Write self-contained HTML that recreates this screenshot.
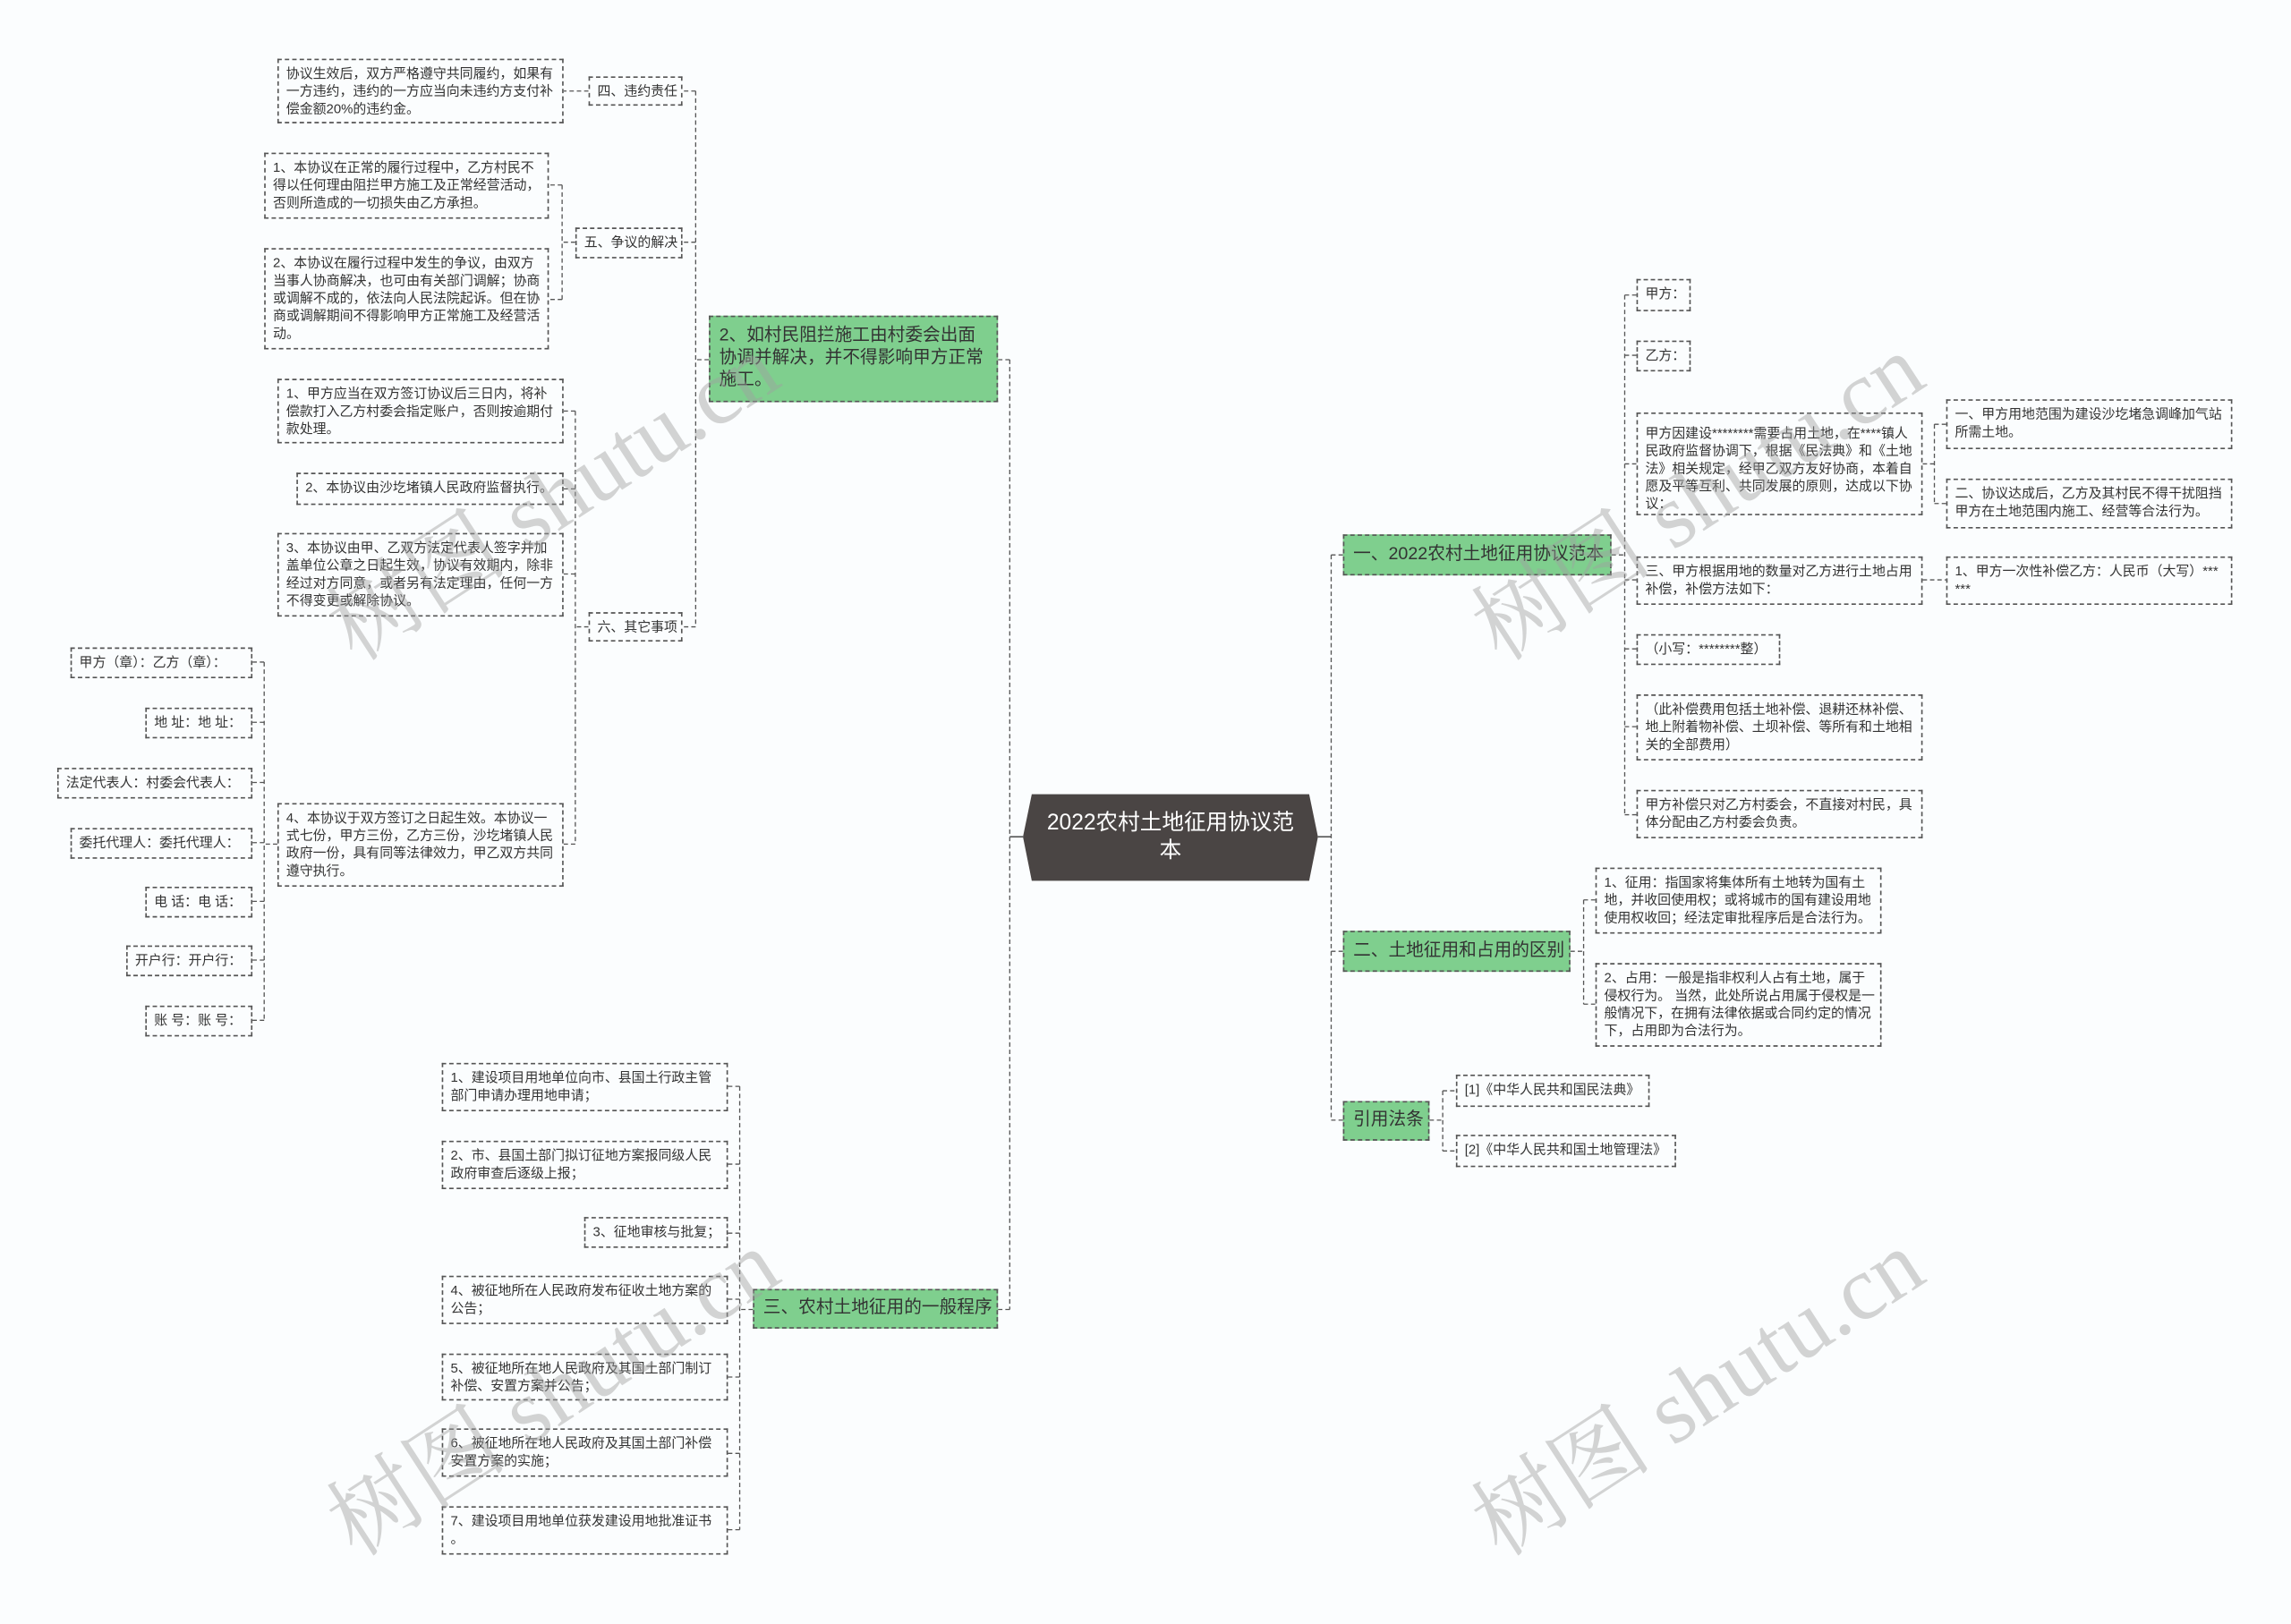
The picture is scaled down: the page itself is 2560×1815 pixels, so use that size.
<!DOCTYPE html>
<html><head><meta charset="utf-8"><style>
html,body{margin:0;padding:0;background:#fbfdfe;}
#wrap{position:relative;width:1561px;height:1106px;transform:scale(1.64,1.6407);transform-origin:0 0;overflow:hidden;font-family:"Liberation Sans","Noto Sans CJK SC",sans-serif;}
.b{position:absolute;box-sizing:border-box;border:1px dashed #555;background:#fbfdfe;color:#333;font-size:9.1px;line-height:12px;padding:3px 3px 3px 5px;}
.n{white-space:nowrap;}
.g{position:absolute;box-sizing:border-box;border:1px dashed #555;background:#7fcf8e;color:#333;font-size:12px;line-height:15px;padding:5px 6px;}
.wm{position:absolute;font-family:"Liberation Serif","Noto Serif CJK SC",serif;font-size:62px;color:rgba(160,160,160,0.45);transform:rotate(-33deg);white-space:nowrap;}
svg{position:absolute;left:0;top:0;}
</style></head><body><div id="wrap">
<svg width="1561" height="1106" viewBox="0 0 1561 1106">
<g fill="none" stroke="#555" stroke-width="0.8" stroke-dasharray="3 2">
<path d="M688 245V892M688 245H680M688 892H680"/>
<path d="M483 245H474M474 62V427M474 62H465M474 165H465M474 427H465"/>
<path d="M401 62H384"/>
<path d="M392 165H383M383 126V204M383 126H374M383 204H374"/>
<path d="M401 427H392M392 280V575M392 280H384M392 333H384M392 391H384M392 575H384"/>
<path d="M189 575H180M180 451V695M180 451H172M180 492H172M180 533H172M180 574H172M180 614H172M180 654H172M180 695H172"/>
<path d="M513 892H504M504 740V1042M504 740H496M504 793H496M504 840H496M504 885H496M504 938H496M504 990H496M504 1042H496"/>
<path d="M907 378V763M907 378H915M907 648H915M907 763H915"/>
<path d="M1098 378H1107M1107 201V555M1107 201H1115M1107 242H1115M1107 316H1115M1107 395H1115M1107 442H1115M1107 495H1115M1107 555H1115"/>
<path d="M1310 316H1318M1318 289V343M1318 289H1326M1318 343H1326"/>
<path d="M1310 395H1326"/>
<path d="M1070 648H1079M1079 613V684M1079 613H1087M1079 684H1087"/>
<path d="M974 763H983M983 743V784M983 743H992M983 784H992"/>
</g>
<g stroke="#555" stroke-width="1"><path d="M697 570H688M898 570H907"/></g>
<polygon points="703,541 892,541 898,570 892,600 703,600 697,570" fill="#4a4544"/>
</svg>
<div style="position:absolute;left:703px;top:541px;width:189px;height:59px;color:#fff;font-size:15px;line-height:19px;text-align:center;padding-top:10px;box-sizing:border-box;">2022农村土地征用协议范<br>本</div>

<div class="b" style="left:189px;top:40px;width:195px;height:44px;">协议生效后，双方严格遵守共同履约，如果有一方违约，违约的一方应当向未违约方支付补偿金额20%的违约金。</div>
<div class="b n" style="left:401px;top:52px;width:64px;height:20px;">四、违约责任</div>
<div class="b" style="left:180px;top:104px;width:194px;height:45px;">1、本协议在正常的履行过程中，乙方村民不得以任何理由阻拦甲方施工及正常经营活动，否则所造成的一切损失由乙方承担。</div>
<div class="b n" style="left:392px;top:155px;width:73px;height:21px;">五、争议的解决</div>
<div class="b" style="left:180px;top:169px;width:194px;height:69px;">2、本协议在履行过程中发生的争议，由双方当事人协商解决，也可由有关部门调解；协商或调解不成的，依法向人民法院起诉。但在协商或调解期间不得影响甲方正常施工及经营活动。</div>
<div class="g" style="left:483px;top:215px;width:197px;height:59px;">2、如村民阻拦施工由村委会出面协调并解决，并不得影响甲方正常施工。</div>
<div class="b" style="left:189px;top:258px;width:195px;height:44px;">1、甲方应当在双方签订协议后三日内，将补偿款打入乙方村委会指定账户，否则按逾期付款处理。</div>
<div class="b n" style="left:202px;top:322px;width:182px;height:22px;">2、本协议由沙圪堵镇人民政府监督执行。</div>
<div class="b" style="left:189px;top:363px;width:195px;height:57px;">3、本协议由甲、乙双方法定代表人签字并加盖单位公章之日起生效，协议有效期内，除非经过对方同意，或者另有法定理由，任何一方不得变更或解除协议。</div>
<div class="b n" style="left:401px;top:417px;width:64px;height:20px;">六、其它事项</div>
<div class="b" style="left:189px;top:547px;width:195px;height:57px;">4、本协议于双方签订之日起生效。本协议一式七份，甲方三份，乙方三份，沙圪堵镇人民政府一份，具有同等法律效力，甲乙双方共同遵守执行。</div>
<div class="b n" style="left:48px;top:441px;width:124px;height:21px;">甲方（章）：乙方（章）：</div>
<div class="b n" style="left:99px;top:482px;width:73px;height:21px;">地 址：地 址：</div>
<div class="b n" style="left:39px;top:523px;width:133px;height:21px;">法定代表人：村委会代表人：</div>
<div class="b n" style="left:48px;top:564px;width:124px;height:21px;">委托代理人：委托代理人：</div>
<div class="b n" style="left:99px;top:604px;width:73px;height:21px;">电 话：电 话：</div>
<div class="b n" style="left:86px;top:644px;width:86px;height:21px;">开户行：开户行：</div>
<div class="b n" style="left:99px;top:685px;width:73px;height:21px;">账 号：账 号：</div>

<div class="b" style="left:301px;top:724px;width:195px;height:33px;">1、建设项目用地单位向市、县国土行政主管部门申请办理用地申请；</div>
<div class="b" style="left:301px;top:777px;width:195px;height:33px;">2、市、县国土部门拟订征地方案报同级人民政府审查后逐级上报；</div>
<div class="b n" style="left:398px;top:829px;width:98px;height:21px;">3、征地审核与批复；</div>
<div class="b" style="left:301px;top:869px;width:195px;height:33px;">4、被征地所在人民政府发布征收土地方案的公告；</div>
<div class="b" style="left:301px;top:922px;width:195px;height:32px;">5、被征地所在地人民政府及其国土部门制订补偿、安置方案并公告；</div>
<div class="b" style="left:301px;top:973px;width:195px;height:33px;">6、被征地所在地人民政府及其国土部门补偿安置方案的实施；</div>
<div class="b" style="left:301px;top:1026px;width:195px;height:33px;">7、建设项目用地单位获发建设用地批准证书<br>。</div>
<div class="g" style="left:513px;top:878px;width:167px;height:27px;padding:4px 6px;white-space:nowrap;">三、农村土地征用的一般程序</div>

<div class="g" style="left:915px;top:364px;width:183px;height:28px;padding:5px 6px;white-space:nowrap;">一、2022农村土地征用协议范本</div>
<div class="g" style="left:915px;top:634px;width:155px;height:28px;padding:5px 6px;white-space:nowrap;">二、土地征用和占用的区别</div>
<div class="g" style="left:915px;top:750px;width:59px;height:27px;padding:4px 6px;white-space:nowrap;">引用法条</div>

<div class="b n" style="left:1115px;top:190px;width:37px;height:22px;">甲方：</div>
<div class="b n" style="left:1115px;top:232px;width:37px;height:21px;">乙方：</div>
<div class="b" style="left:1115px;top:281px;width:195px;height:70px;padding-top:7px;">甲方因建设********需要占用土地，在****镇人民政府监督协调下，根据《民法典》和《土地法》相关规定，经甲乙双方友好协商，本着自愿及平等互利、共同发展的原则，达成以下协议：</div>
<div class="b" style="left:1326px;top:272px;width:195px;height:34px;">一、甲方用地范围为建设沙圪堵急调峰加气站所需土地。</div>
<div class="b" style="left:1326px;top:326px;width:195px;height:34px;">二、协议达成后，乙方及其村民不得干扰阻挡甲方在土地范围内施工、经营等合法行为。</div>
<div class="b" style="left:1115px;top:379px;width:195px;height:33px;">三、甲方根据用地的数量对乙方进行土地占用补偿，补偿方法如下：</div>
<div class="b" style="left:1326px;top:379px;width:195px;height:33px;">1、甲方一次性补偿乙方：人民币（大写）***<br>***</div>
<div class="b n" style="left:1115px;top:432px;width:98px;height:21px;">（小写：********整）</div>
<div class="b" style="left:1115px;top:473px;width:195px;height:45px;">（此补偿费用包括土地补偿、退耕还林补偿、地上附着物补偿、土坝补偿、等所有和土地相关的全部费用）</div>
<div class="b" style="left:1115px;top:538px;width:195px;height:33px;">甲方补偿只对乙方村委会，不直接对村民，具体分配由乙方村委会负责。</div>
<div class="b" style="left:1087px;top:591px;width:195px;height:45px;">1、征用：指国家将集体所有土地转为国有土地，并收回使用权；或将城市的国有建设用地使用权收回；经法定审批程序后是合法行为。</div>
<div class="b" style="left:1087px;top:656px;width:195px;height:57px;">2、占用：一般是指非权利人占有土地，属于侵权行为。 当然，此处所说占用属于侵权是一般情况下，在拥有法律依据或合同约定的情况下，占用即为合法行为。</div>
<div class="b n" style="left:992px;top:732px;width:132px;height:22px;">[1]《中华人民共和国民法典》</div>
<div class="b n" style="left:992px;top:773px;width:150px;height:22px;">[2]《中华人民共和国土地管理法》</div>

<div class="wm" style="left:200px;top:290px;">树图 shutu.cn</div>
<div class="wm" style="left:980px;top:290px;">树图 shutu.cn</div>
<div class="wm" style="left:200px;top:900px;">树图 shutu.cn</div>
<div class="wm" style="left:980px;top:900px;">树图 shutu.cn</div>
</div></body></html>
